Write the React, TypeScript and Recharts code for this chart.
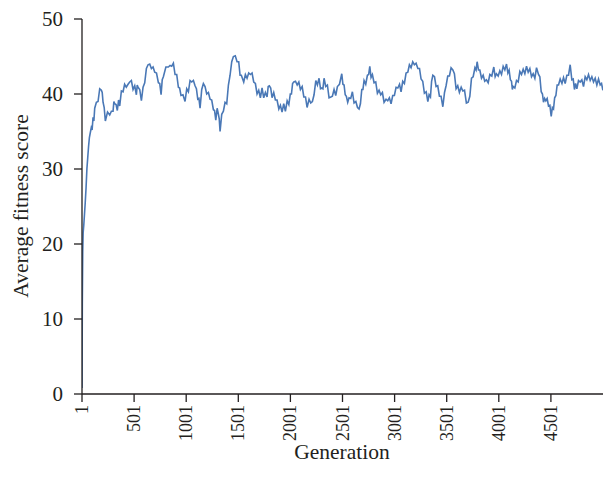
import React from 'react';
import { LineChart, Line, XAxis, YAxis } from 'recharts';

const generations: number[] = [
  1, 4, 8, 12, 18, 25, 32, 40, 48, 56, 64, 72, 80, 90, 98, 107, 115, 123,
  139, 155, 171, 187, 195, 203, 214, 225, 246, 267, 283, 299, 307, 315, 328, 340, 352, 363, 379, 395,
  410, 426, 443, 459, 475, 491, 507, 523, 531, 539, 555, 571, 587, 603, 619, 635, 651, 667, 683, 699,
  716, 734, 747, 760, 771, 782, 806, 830, 846, 862, 878, 894, 910, 926, 938, 951, 970, 990,
  1006, 1022, 1038, 1054, 1070, 1086, 1099, 1112, 1123, 1134, 1150, 1166, 1182, 1198, 1214, 1230, 1246, 1262,
  1273, 1285, 1298, 1310, 1318, 1326, 1342, 1358, 1374, 1390, 1406, 1422, 1438, 1454, 1472, 1489,
  1505, 1518, 1530, 1553, 1569, 1585, 1601, 1617, 1633, 1649, 1665, 1681, 1697, 1713, 1729, 1745, 1761, 1777, 1788, 1799,
  1812, 1825, 1841, 1857, 1873, 1890, 1905, 1921, 1937, 1953, 1970, 1986, 2000,
  2011, 2022, 2034, 2050, 2066, 2082, 2097, 2114, 2130, 2146, 2161, 2180, 2196, 2212, 2228, 2245, 2260, 2276, 2290,
  2302, 2313, 2324, 2340, 2356, 2372, 2389, 2404, 2420, 2436, 2452, 2472, 2494,
  2505, 2516, 2527, 2538, 2551, 2564, 2580, 2596, 2612, 2629, 2645, 2660, 2673, 2686, 2697, 2708, 2724, 2740, 2752, 2763, 2775, 2788,
  2804, 2820, 2836, 2852, 2868, 2884, 2900, 2919, 2935, 2951, 2967, 2983, 2999,
  3015, 3032, 3048, 3063, 3079, 3095, 3111, 3128, 3143, 3159, 3175, 3191, 3207, 3224, 3240, 3255, 3271, 3287,
  3304, 3320, 3332, 3345, 3356, 3368, 3384, 3399, 3415, 3431, 3447, 3464, 3480, 3495,
  3511, 3527, 3543, 3560, 3575, 3591, 3607, 3623, 3640, 3656, 3672, 3690, 3707, 3723, 3739, 3755, 3772, 3783, 3793,
  3806, 3819, 3835, 3851, 3866, 3882, 3899, 3915, 3934, 3953, 3966, 3978, 3995,
  4011, 4027, 4043, 4059, 4075, 4088, 4100, 4112, 4123, 4131, 4139, 4155, 4171, 4187, 4203, 4219, 4235, 4251, 4267, 4283, 4299,
  4315, 4331, 4347, 4363, 4382, 4395, 4408, 4420, 4430, 4441, 4452, 4465, 4478, 4491,
  4504, 4515, 4526, 4537, 4549, 4561, 4574, 4590, 4607, 4622, 4638, 4654, 4670, 4686, 4702, 4715, 4727, 4738, 4750, 4766, 4782, 4798,
  4814, 4830, 4846, 4862, 4878, 4894, 4910, 4926, 4942, 4958, 4974, 4987, 5000,
];

const fitness: number[] = [
  0.8, 12, 19, 21.5, 22.5, 24, 25.5, 27.5, 30, 31.5, 33, 34.2, 34.8, 35.5, 35.2, 36.9, 36.4, 38.1,
  38.9, 39.0, 40.7, 40.5, 40.2, 38.9, 38.2, 36.4, 37.6, 37.2, 37.7, 37.7, 39.0, 38.7, 38.6, 37.8, 39.2, 38.4, 40.4, 40.3,
  41.3, 40.9, 41.3, 41.6, 41.8, 40.6, 41.1, 39.9, 41.2, 40.9, 40.6, 39.1, 40.9, 41.5, 43.4, 43.9, 44.0, 43.4, 43.6, 42.9,
  42.8, 41.5, 41.4, 39.9, 41.9, 42.3, 43.6, 43.6, 43.8, 43.7, 44.1, 42.6, 42.6, 40.9, 40.8, 39.8, 39.9, 39.0,
  40.7, 40.3, 41.8, 41.6, 41.8, 41.1, 40.7, 39.3, 39.4, 38.1, 40.6, 41.4, 41.0, 40.0, 40.2, 39.3, 39.2, 37.9,
  37.8, 36.5, 38.1, 37.3, 36.7, 35.0, 37.3, 37.7, 38.9, 38.7, 41.2, 42.5, 44.3, 45.0, 45.1, 44.3,
  44.3, 42.5, 42.5, 41.6, 42.6, 42.1, 42.8, 42.6, 42.8, 41.6, 41.4, 40.0, 40.5, 39.5, 40.8, 39.5, 40.2, 39.6, 41.0, 41.1,
  40.8, 39.5, 40.2, 39.2, 39.2, 38.0, 38.5, 37.6, 38.7, 37.7, 39.1, 38.6, 40.0,
  40.0, 41.4, 41.6, 41.7, 41.2, 41.6, 40.6, 41.0, 39.6, 39.6, 38.2, 39.3, 38.8, 39.0, 39.9, 41.8, 41.2, 42.1, 40.7,
  40.8, 40.7, 42.1, 41.0, 41.2, 39.5, 39.6, 39.7, 40.6, 39.8, 41.0, 41.3, 42.7,
  41.3, 41.2, 39.9, 39.7, 38.9, 39.5, 39.4, 40.3, 38.8, 39.0, 38.2, 38.0, 38.7, 40.6, 40.6, 41.8, 41.3, 42.5, 42.6, 43.7, 42.2, 42.6,
  41.5, 41.6, 40.1, 40.5, 39.9, 40.2, 38.9, 39.3, 39.1, 39.5, 38.7, 39.8, 39.8,
  40.9, 40.8, 41.3, 40.3, 41.7, 41.4, 42.8, 42.9, 43.9, 43.5, 44.3, 43.9, 44.1, 43.4, 43.4, 42.0, 41.7, 40.1,
  40.3, 39.0, 39.9, 39.6, 41.7, 42.5, 42.3, 41.0, 41.1, 39.7, 39.7, 38.3, 40.2, 41.1,
  42.4, 42.4, 43.5, 43.2, 42.7, 40.7, 41.1, 40.2, 40.9, 40.4, 40.5, 38.8, 38.9, 39.7, 42.1, 42.3, 43.5, 43.2, 44.3,
  43.2, 43.2, 42.1, 42.5, 41.7, 41.9, 41.5, 42.6, 42.4, 43.6, 42.3, 42.7, 42.4,
  43.1, 42.6, 43.7, 43.2, 44.0, 42.8, 43.2, 41.9, 41.7, 40.6, 41.0, 40.8, 41.8, 41.6, 43.0, 42.6, 43.3, 42.7, 43.7, 42.9, 43.4,
  42.3, 42.7, 42.1, 43.5, 42.6, 42.3, 40.3, 40.0, 38.9, 39.4, 39.1, 39.4, 38.4, 38.5,
  37.0, 38.2, 38.0, 39.5, 39.8, 41.2, 41.2, 42.0, 41.4, 42.2, 41.4, 42.5, 42.5, 43.9, 41.9, 42.0, 40.6, 41.4, 40.7, 41.8, 41.6, 41.9,
  41.0, 42.3, 41.9, 42.6, 41.8, 42.3, 41.6, 42.1, 41.2, 42.0, 41.2, 41.4, 40.5,
];

const xTicks: number[] = [1, 501, 1001, 1501, 2001, 2501, 3001, 3501, 4001, 4501];
const yTicks: number[] = [0, 10, 20, 30, 40, 50];

const data = generations.map((g, i) => ({ gen: g, fit: fitness[i] }));

const FONT = '"Liberation Serif", "Times New Roman", serif';
const INK = '#231f20';

const XTick = (props: any) => {
  const { x, y, payload } = props;
  return (
    <text
      x={x}
      y={y}
      transform={`rotate(-90, ${x}, ${y})`}
      textAnchor="end"
      dominantBaseline="central"
      fontFamily={FONT}
      fontSize={18}
      fill={INK}
    >
      {payload.value}
    </text>
  );
};

const YLabel = () => (
  <text
    x={21}
    y={206}
    transform="rotate(-90, 21, 206)"
    textAnchor="middle"
    dominantBaseline="central"
    fontFamily={FONT}
    fontSize={21.5}
    fill={INK}
  >
    Average fitness score
  </text>
);

const XLabel = () => (
  <text
    x={342}
    y={452}
    textAnchor="middle"
    dominantBaseline="central"
    fontFamily={FONT}
    fontSize={21.5}
    fill={INK}
  >
    Generation
  </text>
);

export default function App() {
  return (
    <div style={{ position: 'absolute', left: 0, top: 0, width: 603, height: 487, background: '#fff' }}>
      <LineChart width={603} height={487} data={data} margin={{ top: 19, right: 0, bottom: 0, left: 0 }}>
        <XAxis
          dataKey="gen"
          type="number"
          domain={[1, 5001]}
          ticks={xTicks}
          interval={0}
          allowDataOverflow
          height={93}
          tickSize={8}
          tickMargin={3}
          tick={<XTick />}
          stroke={INK}
          strokeWidth={1.3}
          label={{ content: () => <XLabel /> }}
        />
        <YAxis
          type="number"
          domain={[0, 50]}
          ticks={yTicks}
          interval={0}
          width={82}
          tickSize={8}
          tickMargin={11}
          tick={{ fontFamily: FONT, fontSize: 21, fill: INK }}
          stroke={INK}
          strokeWidth={1.3}
          label={{ content: () => <YLabel /> }}
        />
        <Line
          type="linear"
          dataKey="fit"
          stroke="#4a78b6"
          strokeWidth={1.6}
          dot={false}
          isAnimationActive={false}
        />
      </LineChart>
    </div>
  );
}
